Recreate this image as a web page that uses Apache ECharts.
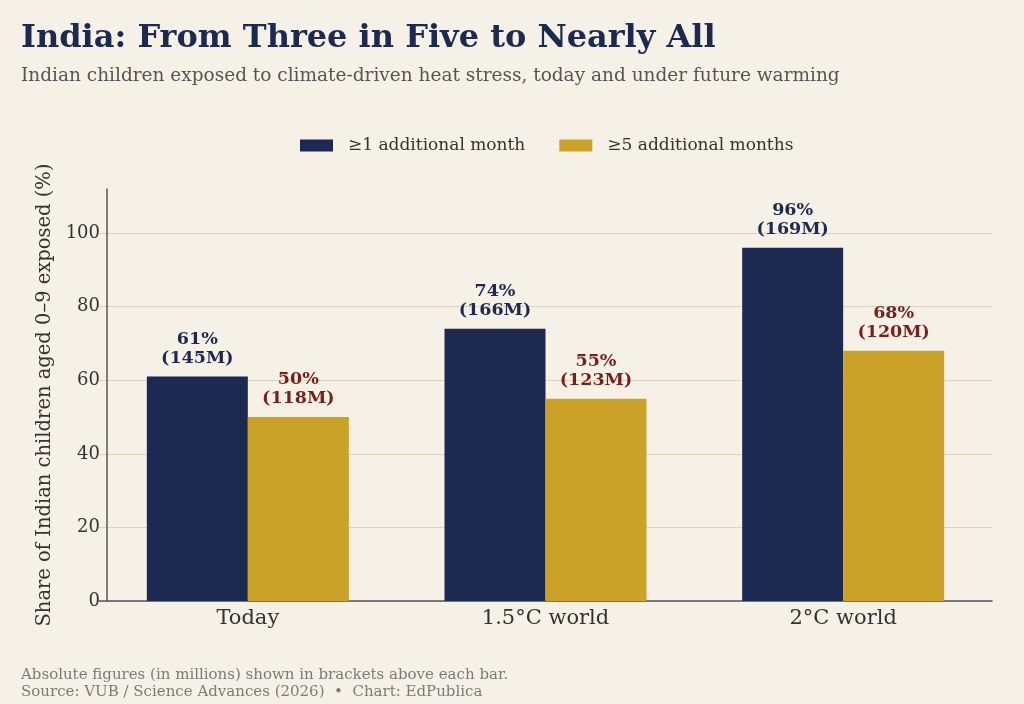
<!DOCTYPE html>
<html><head><meta charset="utf-8">
<script src="https://cdn.jsdelivr.net/npm/echarts@6/dist/echarts.min.js"></script>
<style>html,body{margin:0;padding:0;background:#f5f1e6}#c{width:1024px;height:704px}</style>
</head><body><div id="c"></div>
<script>
const categories = ['Today', '1.5°C world', '2°C world'];
const shareOne = [61, 74, 96];
const absOne = [145, 166, 169];
const shareFive = [50, 55, 68];
const absFive = [118, 123, 120];
const yTicks = [0, 20, 40, 60, 80, 100];

const FONT = '"DejaVu Serif", serif';
const NAVY = '#1c2951', GOLD = '#c9a227', RED = '#7a1f1f';

const chart = echarts.init(document.getElementById('c'));
chart.setOption({
  backgroundColor: '#f5f1e6',
  animation: false,
  textStyle: { fontFamily: FONT },
  title: [
    { text: 'India: From Three in Five to Nearly All', left: 21, top: 23, padding: 0,
      textStyle: { fontFamily: FONT, fontSize: 32, fontWeight: 'bold', color: NAVY } },
    { text: 'Indian children exposed to climate-driven heat stress, today and under future warming', left: 21, top: 67, padding: 0,
      textStyle: { fontFamily: FONT, fontSize: 18.5, fontWeight: 'normal', color: '#555' } },
    { text: 'Absolute figures (in millions) shown in brackets above each bar.\nSource: VUB / Science Advances (2026)  •  Chart: EdPublica', left: 21, top: 667, padding: 0,
      textStyle: { fontFamily: FONT, fontSize: 15, fontWeight: 'normal', color: '#7a7a7a', lineHeight: 16.5 } }
  ],
  legend: {
    left: 300, top: 137, padding: 0, itemWidth: 33, itemHeight: 12, itemGap: 34, icon: 'rect',
    textStyle: { fontFamily: FONT, fontSize: 17, color: '#333', padding: [0, 0, 0, 10] },
    data: ['≥1 additional month', '≥5 additional months']
  },
  grid: { left: 99, right: 32, top: 189, bottom: 103 },
  xAxis: {
    type: 'category', data: categories,
    axisLine: { lineStyle: { color: '#555', width: 1.5 } },
    axisTick: { show: false },
    axisLabel: { fontFamily: FONT, fontSize: 21, color: '#333', margin: 7 }
  },
  yAxis: {
    type: 'value', min: 0, max: 112, interval: 20, offset: -8,
    name: 'Share of Indian children aged 0–9 exposed (%)',
    nameLocation: 'middle', nameGap: 43,
    nameTextStyle: { fontFamily: FONT, fontSize: 19.5, color: '#333' },
    axisLine: { show: true, lineStyle: { color: '#555', width: 1.5 } },
    axisTick: { show: false },
    axisLabel: { fontFamily: FONT, fontSize: 18, color: '#333', margin: 7, showMaxLabel: false,
      formatter: v => yTicks.includes(v) ? String(v) : '' },
    splitLine: { show: true, showMaxLine: false, lineStyle: { color: '#d9d3c2', width: 1.2 } }
  },
  series: [
    { name: '≥1 additional month', type: 'bar', data: shareOne, barWidth: 101, barGap: '0%',
      itemStyle: { color: NAVY },
      label: { show: true, position: 'top', distance: 9, fontFamily: FONT, fontSize: 17.5, fontWeight: 'bold',
        color: NAVY, lineHeight: 19, formatter: p => shareOne[p.dataIndex] + '%\n(' + absOne[p.dataIndex] + 'M)' } },
    { name: '≥5 additional months', type: 'bar', data: shareFive, barWidth: 101, barGap: '0%',
      itemStyle: { color: GOLD },
      label: { show: true, position: 'top', distance: 9, fontFamily: FONT, fontSize: 17.5, fontWeight: 'bold',
        color: RED, lineHeight: 19, formatter: p => shareFive[p.dataIndex] + '%\n(' + absFive[p.dataIndex] + 'M)' } }
  ]
});
</script></body></html>
